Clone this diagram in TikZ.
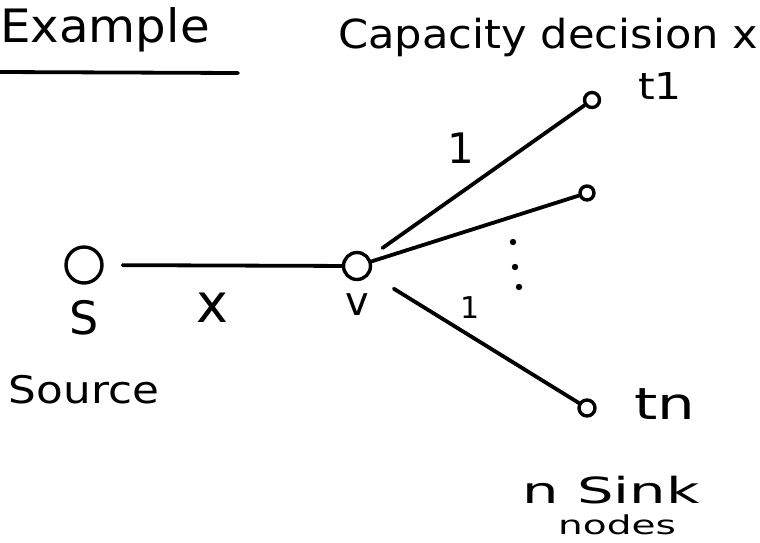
\documentclass[tikz,border=0pt]{standalone}
\usepackage{fontspec}
\setmainfont{DejaVu Sans}
\begin{document}
\begin{tikzpicture}[x=1pt,y=-1pt,
  every node/.style={inner sep=0pt},
  pen/.style={line width=3.8pt,line cap=round,line join=round},
  vertex/.style={circle,draw,line width=3.4pt,minimum size=#1},
  vertex/.default=34pt,
  hand/.style n args={2}{font=\fontsize{#1}{#1}\selectfont\addfontfeature{FakeStretch=#2}}]
\useasboundingbox (0,0) rectangle (760,542);

% headings
\node[hand={46}{1.05},anchor=base west] (title) at (0,42) {Example};
\draw[pen] (0,72) -- (238,73);
\node[hand={40}{1.08},anchor=base west] (cap) at (338,48) {Capacity decision x};

% vertices
\node[vertex=36pt] (s) at (84,265) {};
\node[vertex=27pt] (v) at (357,266) {};
\node[vertex=15pt] (t1) at (592,100) {};
\node[vertex=14pt] (t2) at (587,193) {};
\node[vertex=16pt] (tn) at (587,408) {};

% vertex labels
\node[hand={46}{1.0}] (sl) at (84,318) {S};
\node[hand={40}{1.0}] (vl) at (357,305) {v};
\node[hand={37}{1.15},anchor=west] (t1l) at (638,86) {t1};
\node[hand={44}{1.35},anchor=west] (tnl) at (634,404) {tn};
\node[hand={38}{1.15}] (src) at (84,390) {Source};
\node[hand={36}{1.6}] (sink) at (611,490) {n Sink};
\node[hand={26}{1.5}] (nodes) at (617,525) {nodes};

% edges
\draw[pen,shorten <=19pt] (s) -- (v);
\draw[pen,shorten <=16pt] (v) -- (t1);
\draw[pen] (v) -- (t2);
\draw[pen,shorten <=28pt] (v) -- (tn);

% capacities
\node[hand={54}{1.0}] (lx) at (212,308) {x};
\node[hand={42}{1.0}] (l1) at (461,148) {1};
\node[hand={30}{1.0}] (l2) at (470,308) {1};

% remaining sinks
\foreach \p/\q in {d1/{513,242},d2/{515,267},d3/{519,287}}
  \fill (\q) circle[radius=3.2pt] coordinate (\p);
\end{tikzpicture}
\end{document}
